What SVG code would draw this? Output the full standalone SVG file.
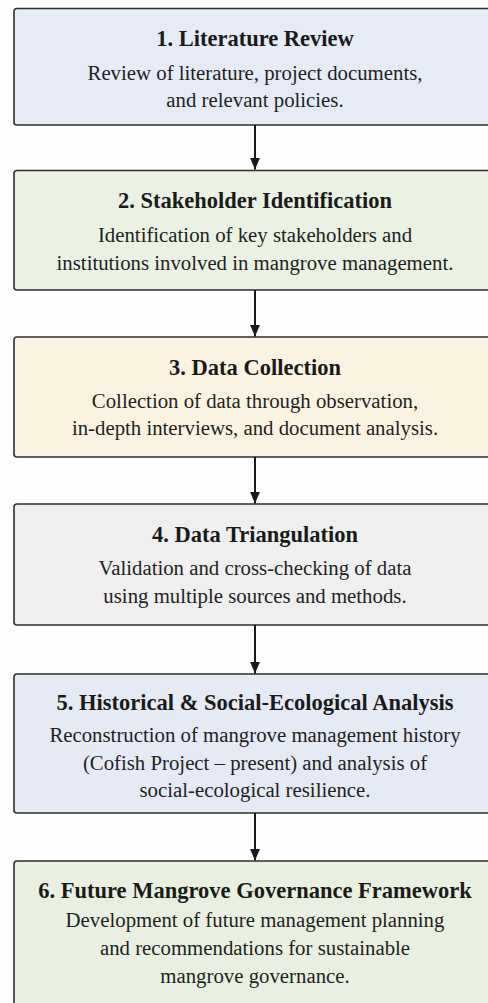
<svg xmlns="http://www.w3.org/2000/svg" width="488" height="1003" viewBox="0 0 488 1003">
<style>
.box{stroke:#2e2e2e;stroke-width:1.6}
.t{font-family:"Liberation Serif","Times New Roman",serif;font-weight:bold;font-size:22.5px;fill:#1a1a1a;text-anchor:middle}
.b{font-family:"Liberation Serif","Times New Roman",serif;font-size:20.8px;fill:#1f1f1f;text-anchor:middle}
.c{stroke:#1a1a1a;stroke-width:2;fill:none}
</style>
<defs>
<marker id="ah" markerWidth="12" markerHeight="14" refX="14" refY="6" orient="auto" markerUnits="userSpaceOnUse" viewBox="0 0 14 12">
<path d="M0,0 L14,6 L0,12 Z" fill="#1a1a1a"/>
</marker>
</defs>
<rect width="488" height="1003" fill="#fdfdfd"/>
<g id="n1"><rect class="box" x="14" y="8.5" width="484" height="116.5" rx="3" fill="#e6ebf6"/>
<text class="t" x="255" y="46">1. Literature Review</text>
<text class="b" x="255" y="80">Review of literature, project documents,</text>
<text class="b" x="255" y="107">and relevant policies.</text></g>
<g id="n2"><rect class="box" x="14" y="170.5" width="484" height="119.5" rx="3" fill="#ebf2e4"/>
<text class="t" x="255" y="208">2. Stakeholder Identification</text>
<text class="b" x="255" y="242">Identification of key stakeholders and</text>
<text class="b" x="255" y="270">institutions involved in mangrove management.</text></g>
<g id="n3"><rect class="box" x="14" y="337" width="484" height="120" rx="3" fill="#fbf3e1"/>
<text class="t" x="255" y="375">3. Data Collection</text>
<text class="b" x="255" y="408">Collection of data through observation,</text>
<text class="b" x="255" y="435">in-depth interviews, and document analysis.</text></g>
<g id="n4"><rect class="box" x="14" y="504" width="484" height="121" rx="3" fill="#efefef"/>
<text class="t" x="255" y="542">4. Data Triangulation</text>
<text class="b" x="255" y="575">Validation and cross-checking of data</text>
<text class="b" x="255" y="603">using multiple sources and methods.</text></g>
<g id="n5"><rect class="box" x="14" y="674" width="484" height="139" rx="3" fill="#e5eaf5"/>
<text class="t" x="255" y="710">5. Historical &amp; Social-Ecological Analysis</text>
<text class="b" x="255" y="742">Reconstruction of mangrove management history</text>
<text class="b" x="255" y="770">(Cofish Project – present) and analysis of</text>
<text class="b" x="255" y="797">social-ecological resilience.</text></g>
<g id="n6"><rect class="box" x="14" y="861" width="484" height="160" rx="3" fill="#e9f0e1"/>
<text class="t" x="255" y="898">6. Future Mangrove Governance Framework</text>
<text class="b" x="255" y="927">Development of future management planning</text>
<text class="b" x="255" y="955">and recommendations for sustainable</text>
<text class="b" x="255" y="983">mangrove governance.</text></g>
<g id="connectors">
<line class="c" x1="255" y1="125" x2="255" y2="169.5" marker-end="url(#ah)"/>
<line class="c" x1="255" y1="290" x2="255" y2="336.5" marker-end="url(#ah)"/>
<line class="c" x1="255" y1="457" x2="255" y2="503.5" marker-end="url(#ah)"/>
<line class="c" x1="255" y1="625" x2="255" y2="673.5" marker-end="url(#ah)"/>
<line class="c" x1="255" y1="813" x2="255" y2="860.5" marker-end="url(#ah)"/>
</g>
</svg>
